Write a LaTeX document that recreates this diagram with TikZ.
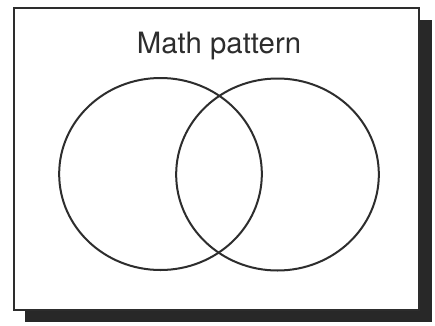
\documentclass[tikz,border=0pt]{standalone}
\usepackage{fontspec}
\setmainfont{TeX Gyre Heros}
\usepackage{tikz}
\usetikzlibrary{positioning,shapes.geometric}
\definecolor{sombraBox}{RGB}{40,40,40}
\definecolor{lineaBox}{RGB}{45,45,45}
\tikzset{conjunto/.style={draw=lineaBox, line width=1.5pt, ellipse, inner sep=0pt,
  minimum width=152pt, minimum height=144pt}}

\begin{document}
\begin{tikzpicture}[x=0.75pt, y=-0.75pt]
  \useasboundingbox (0,0) rectangle (435,325);
  % Shadow and frame
  \fill[sombraBox] (25,20) rectangle (432,322);
  \filldraw[draw=lineaBox, fill=white, line width=1.5pt]
    (14,8) rectangle (419,310);
  % Title
  \node[font=\fontsize{22}{26}\selectfont, text=lineaBox] (titulo) at (219,46) {Math pattern};
  % Two sets
  \node[conjunto] (conjA) at (160.5,174) {};
  \node[conjunto] (conjB) at (277.5,174.5) {};
\end{tikzpicture}
\end{document}
